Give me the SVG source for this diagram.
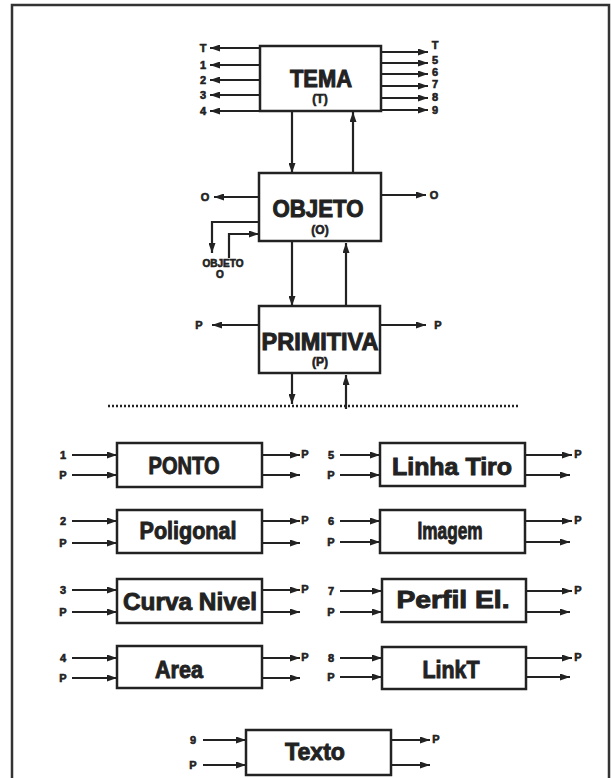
<svg xmlns="http://www.w3.org/2000/svg" width="611" height="778" viewBox="0 0 611 778">
<defs>
<marker id="ah" markerUnits="userSpaceOnUse" markerWidth="11" markerHeight="7" refX="10" refY="3.5" orient="auto">
<path d="M0,0 L10,3.5 L0,7 z" fill="#222"/>
</marker>
<style>
.box{fill:#fff;stroke:#222;stroke-width:2.5}
.c{fill:none;stroke:#222;stroke-width:2.2;marker-end:url(#ah)}
.t{font-family:"Liberation Sans","DejaVu Sans",sans-serif;font-weight:bold;fill:#222;stroke:#222;stroke-width:0.6;text-anchor:middle}
.big{font-size:24px;stroke-width:1}
.mid{font-size:23px;stroke-width:0.9}
.sm{font-size:12px}
.lb{font-size:11px}
</style>
</defs>
<rect width="611" height="778" fill="#fff"/>
<path d="M12,778 V5 H609 V778" fill="none" stroke="#333" stroke-width="2.5"/>
<line x1="108" y1="406" x2="520" y2="406" stroke="#222" stroke-width="2.5" stroke-dasharray="2 2"/>

<g id="connectors">
<path class="c" d="M260,48 H210"/>
<path class="c" d="M260,65 H210"/>
<path class="c" d="M260,80 H210"/>
<path class="c" d="M260,95 H210"/>
<path class="c" d="M260,111 H210"/>
<path class="c" d="M381,52 H428"/>
<path class="c" d="M381,63 H428"/>
<path class="c" d="M381,74 H428"/>
<path class="c" d="M381,86 H428"/>
<path class="c" d="M381,98 H428"/>
<path class="c" d="M381,110 H428"/>
<path class="c" d="M292,111 V173"/>
<path class="c" d="M353,173 V112"/>
<path class="c" d="M259,197 H214"/>
<path class="c" d="M381,195 H426"/>
<path class="c" d="M259,222 H212 V253"/>
<path class="c" d="M229,258 V234 H259"/>
<path class="c" d="M292,241 V306"/>
<path class="c" d="M346,306 V243"/>
<path class="c" d="M259,325 H212"/>
<path class="c" d="M380,325 H426"/>
<path class="c" d="M292,373 V404"/>
<path class="c" d="M346,409 V375"/>
<path class="c" d="M72,455 H117"/><path class="c" d="M72,475 H117"/>
<path class="c" d="M262,455 H300"/><path class="c" d="M262,475 H300"/>
<path class="c" d="M72,521 H117"/><path class="c" d="M72,543 H117"/>
<path class="c" d="M262,521 H300"/><path class="c" d="M262,543 H300"/>
<path class="c" d="M72,590 H117"/><path class="c" d="M72,612 H117"/>
<path class="c" d="M262,590 H300"/><path class="c" d="M262,612 H300"/>
<path class="c" d="M72,658 H117"/><path class="c" d="M72,678 H117"/>
<path class="c" d="M262,658 H300"/><path class="c" d="M262,678 H300"/>
<path class="c" d="M340,455 H380"/><path class="c" d="M340,475 H380"/>
<path class="c" d="M525,455 H572"/><path class="c" d="M525,475 H570"/>
<path class="c" d="M340,521 H380"/><path class="c" d="M340,542 H380"/>
<path class="c" d="M525,521 H572"/><path class="c" d="M525,542 H570"/>
<path class="c" d="M340,591 H382"/><path class="c" d="M340,612 H382"/>
<path class="c" d="M526,591 H572"/><path class="c" d="M526,612 H570"/>
<path class="c" d="M340,658 H382"/><path class="c" d="M340,677 H382"/>
<path class="c" d="M526,658 H572"/><path class="c" d="M526,677 H570"/>
<path class="c" d="M203,740 H246"/><path class="c" d="M203,765 H246"/>
<path class="c" d="M391,740 H430"/><path class="c" d="M391,765 H430"/>
</g>

<g id="labels">
<text class="t lb" x="203" y="52">T</text>
<text class="t lb" x="203" y="69">1</text>
<text class="t lb" x="203" y="84">2</text>
<text class="t lb" x="203" y="99">3</text>
<text class="t lb" x="203" y="115">4</text>
<text class="t lb" x="435" y="49">T</text>
<text class="t lb" x="435" y="64">5</text>
<text class="t lb" x="435" y="76">6</text>
<text class="t lb" x="435" y="88">7</text>
<text class="t lb" x="435" y="101">8</text>
<text class="t lb" x="435" y="114">9</text>
<text class="t lb" x="205" y="201">O</text>
<text class="t lb" x="434" y="199">O</text>
<text class="t" style="font-size:10px" x="223" y="267">OBJETO</text>
<text class="t" style="font-size:10px" x="220" y="278">O</text>
<text class="t lb" x="199" y="329">P</text>
<text class="t lb" x="438" y="329">P</text>
<text class="t lb" x="63" y="459">1</text><text class="t lb" x="63" y="479">P</text><text class="t lb" x="305" y="458">P</text>
<text class="t lb" x="63" y="525">2</text><text class="t lb" x="63" y="547">P</text><text class="t lb" x="305" y="524">P</text>
<text class="t lb" x="63" y="594">3</text><text class="t lb" x="63" y="616">P</text><text class="t lb" x="305" y="593">P</text>
<text class="t lb" x="63" y="662">4</text><text class="t lb" x="63" y="682">P</text><text class="t lb" x="305" y="661">P</text>
<text class="t lb" x="331" y="459">5</text><text class="t lb" x="331" y="479">P</text><text class="t lb" x="578" y="458">P</text>
<text class="t lb" x="331" y="525">6</text><text class="t lb" x="331" y="546">P</text><text class="t lb" x="578" y="524">P</text>
<text class="t lb" x="331" y="595">7</text><text class="t lb" x="331" y="616">P</text><text class="t lb" x="578" y="594">P</text>
<text class="t lb" x="331" y="662">8</text><text class="t lb" x="331" y="681">P</text><text class="t lb" x="578" y="661">P</text>
<text class="t lb" x="193" y="744">9</text><text class="t lb" x="193" y="769">P</text><text class="t lb" x="436" y="743">P</text>
</g>

<g id="tema">
<rect class="box" x="260" y="46" width="121" height="65"/>
<text class="t big" x="321" y="87" textLength="62" lengthAdjust="spacingAndGlyphs">TEMA</text>
<text class="t sm" x="320" y="103">(T)</text>
</g>
<g id="objeto">
<rect class="box" x="259" y="173" width="122" height="68"/>
<text class="t big" x="318" y="217" textLength="91" lengthAdjust="spacingAndGlyphs">OBJETO</text>
<text class="t sm" x="320" y="234">(O)</text>
</g>
<g id="primitiva">
<rect class="box" x="259" y="306" width="121" height="67"/>
<text class="t big" x="320" y="350" textLength="117" lengthAdjust="spacingAndGlyphs">PRIMITIVA</text>
<text class="t sm" x="320" y="366">(P)</text>
</g>
<g id="ponto">
<rect class="box" x="117" y="443" width="145" height="44"/>
<text class="t mid" x="184" y="474" textLength="71" lengthAdjust="spacingAndGlyphs">PONTO</text>
</g>
<g id="poligonal">
<rect class="box" x="117" y="510" width="145" height="43"/>
<text class="t mid" x="188" y="539" textLength="97" lengthAdjust="spacingAndGlyphs">Poligonal</text>
</g>
<g id="curva-nivel">
<rect class="box" x="117" y="579" width="145" height="44"/>
<text class="t mid" x="190" y="610" textLength="134" lengthAdjust="spacingAndGlyphs">Curva  Nivel</text>
</g>
<g id="area">
<rect class="box" x="117" y="646" width="145" height="42"/>
<text class="t mid" x="179" y="678" textLength="48" lengthAdjust="spacingAndGlyphs">Area</text>
</g>
<g id="linha-tiro">
<rect class="box" x="380" y="443" width="145" height="43"/>
<text class="t mid" x="452" y="475" textLength="120" lengthAdjust="spacingAndGlyphs">Linha  Tiro</text>
</g>
<g id="imagem">
<rect class="box" x="380" y="510" width="145" height="43"/>
<text class="t mid" x="450" y="539" textLength="65" lengthAdjust="spacingAndGlyphs">Imagem</text>
</g>
<g id="perfil-el">
<rect class="box" x="382" y="579" width="144" height="43"/>
<text class="t mid" x="453" y="608" textLength="113" lengthAdjust="spacingAndGlyphs">Perfil  El.</text>
</g>
<g id="linkt">
<rect class="box" x="382" y="647" width="144" height="42"/>
<text class="t mid" x="451" y="678" textLength="57" lengthAdjust="spacingAndGlyphs">LinkT</text>
</g>
<g id="texto">
<rect class="box" x="246" y="730" width="145" height="45"/>
<text class="t mid" x="315" y="760" textLength="60" lengthAdjust="spacingAndGlyphs">Texto</text>
</g>
</svg>
